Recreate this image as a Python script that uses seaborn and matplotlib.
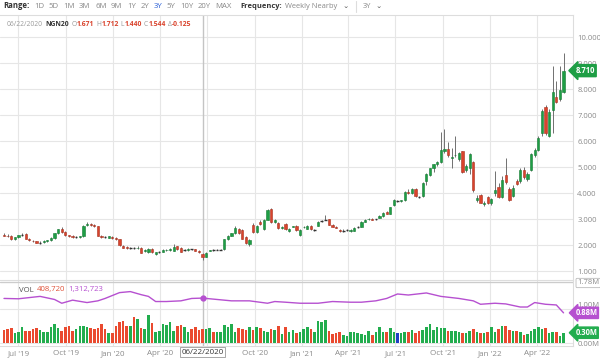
import matplotlib
matplotlib.use("Agg")
import matplotlib.pyplot as plt
import pandas as pd
import seaborn as sns

# weekly NG nearby candles, first week starting 2019-06-03
start = pd.Timestamp("2019-06-03")

opens = [2.40, 2.36, 2.36, 2.22, 2.30, 2.37, 2.42, 2.25, 2.17, 2.15,
         2.09, 2.10, 2.14, 2.18, 2.27, 2.45, 2.62, 2.52, 2.37, 2.36,
         2.30, 2.30, 2.34, 2.78, 2.79, 2.76, 2.73, 2.36, 2.31, 2.28,
         2.30, 2.28, 2.22, 1.97, 1.93, 1.89, 1.89, 1.88, 1.90, 1.78,
         1.72, 1.85, 1.66, 1.74, 1.75, 1.79, 1.80, 1.78, 1.95, 1.90,
         1.81, 1.80, 1.84, 1.83, 1.78, 1.671, 1.55, 1.78, 1.80, 1.81,
         1.82, 1.83, 2.22, 2.35, 2.45, 2.62, 2.58, 2.30, 2.05, 2.78,
         2.50, 2.90, 2.62, 2.98, 3.38, 2.90, 2.85, 2.66, 2.82, 2.55,
         2.70, 2.75, 2.40, 2.68, 2.62, 2.75, 2.57, 2.75, 2.91, 2.97,
         3.00, 2.78, 2.68, 2.57, 2.55, 2.57, 2.55, 2.55, 2.68, 2.70,
         2.90, 2.99, 3.01, 2.99, 3.05, 3.10, 3.28, 3.20, 3.55, 3.70,
         3.70, 3.72, 4.05, 4.00, 4.15, 3.86, 3.88, 4.45, 4.70, 4.95,
         5.10, 5.20, 5.62, 5.70, 5.35, 5.45, 5.30, 5.60, 4.88, 4.95,
         5.20, 3.72, 3.92, 3.56, 3.85, 3.60, 4.00, 4.25, 3.85, 4.70,
         4.15, 3.90, 4.45, 4.45, 4.90, 4.55, 4.90, 5.45, 5.65, 6.30,
         7.30, 6.20, 7.20, 7.70, 7.60, 7.90]
highs = [2.45, 2.42, 2.40, 2.32, 2.40, 2.45, 2.46, 2.28, 2.20, 2.17,
         2.14, 2.18, 2.20, 2.30, 2.48, 2.63, 2.70, 2.55, 2.40, 2.38,
         2.34, 2.36, 2.76, 2.88, 2.83, 2.80, 2.75, 2.40, 2.34, 2.36,
         2.33, 2.30, 2.24, 1.99, 1.95, 1.93, 1.91, 1.97, 1.92, 1.84,
         1.88, 1.88, 1.74, 1.78, 1.84, 1.83, 1.88, 2.05, 1.98, 1.92,
         1.86, 1.88, 1.86, 1.85, 1.80, 1.712, 1.72, 1.82, 1.83, 1.84,
         1.85, 2.24, 2.38, 2.48, 2.72, 2.66, 2.60, 2.33, 2.22, 2.85,
         2.78, 2.95, 3.00, 3.40, 3.42, 3.00, 2.90, 2.72, 2.85, 2.66,
         2.75, 2.78, 2.60, 2.72, 2.78, 2.78, 2.62, 2.92, 2.96, 3.15,
         3.02, 2.80, 2.72, 2.60, 2.60, 2.62, 2.60, 2.68, 2.72, 2.92,
         3.00, 3.04, 3.03, 3.02, 3.14, 3.27, 3.32, 3.47, 3.77, 3.74,
         3.74, 4.08, 4.15, 4.18, 4.20, 3.90, 4.42, 4.78, 4.97, 5.12,
         5.22, 6.35, 6.45, 5.95, 5.75, 6.20, 5.58, 5.62, 5.10, 5.55,
         5.22, 3.92, 3.98, 3.68, 3.90, 3.80, 4.85, 4.40, 4.65, 5.35,
         4.25, 4.30, 4.55, 4.95, 5.00, 4.80, 5.55, 5.75, 6.20, 7.25,
         7.40, 7.25, 8.90, 8.30, 8.90, 9.40]
lows = [2.34, 2.30, 2.18, 2.19, 2.27, 2.33, 2.22, 2.15, 2.12, 2.07,
        2.05, 2.08, 2.12, 2.16, 2.25, 2.43, 2.48, 2.35, 2.32, 2.28,
        2.27, 2.28, 2.32, 2.74, 2.74, 2.70, 2.33, 2.28, 2.27, 2.26,
        2.25, 2.20, 1.98, 1.88, 1.86, 1.86, 1.85, 1.86, 1.68, 1.74,
        1.68, 1.70, 1.62, 1.70, 1.72, 1.76, 1.78, 1.76, 1.80, 1.73,
        1.78, 1.78, 1.80, 1.76, 1.70, 1.440, 1.52, 1.76, 1.77, 1.79,
        1.80, 1.82, 2.20, 2.33, 2.43, 2.42, 2.22, 2.05, 1.95, 2.48,
        2.45, 2.78, 2.58, 2.95, 2.85, 2.86, 2.62, 2.60, 2.58, 2.50,
        2.68, 2.55, 2.35, 2.64, 2.60, 2.58, 2.55, 2.72, 2.88, 2.95,
        2.76, 2.68, 2.64, 2.52, 2.52, 2.55, 2.52, 2.53, 2.65, 2.68,
        2.88, 2.97, 2.96, 2.97, 3.03, 3.08, 3.18, 3.18, 3.52, 3.65,
        3.66, 3.70, 3.97, 3.98, 3.85, 3.82, 3.85, 4.30, 4.65, 4.80,
        5.05, 5.15, 5.55, 5.40, 4.95, 5.40, 5.25, 4.78, 4.80, 4.75,
        4.05, 3.65, 3.60, 3.52, 3.58, 3.55, 3.90, 3.80, 3.80, 4.35,
        3.70, 3.85, 4.30, 4.40, 4.55, 4.45, 4.85, 5.40, 5.60, 6.20,
        6.25, 6.15, 6.30, 7.45, 7.55, 7.85]
closes = [2.36, 2.34, 2.22, 2.30, 2.37, 2.38, 2.25, 2.18, 2.15, 2.09,
          2.10, 2.15, 2.18, 2.28, 2.45, 2.60, 2.52, 2.38, 2.35, 2.30,
          2.31, 2.34, 2.73, 2.80, 2.77, 2.74, 2.36, 2.31, 2.30, 2.33,
          2.28, 2.22, 2.00, 1.90, 1.88, 1.90, 1.88, 1.90, 1.70, 1.80,
          1.85, 1.72, 1.72, 1.75, 1.80, 1.81, 1.86, 1.92, 1.83, 1.75,
          1.82, 1.86, 1.83, 1.78, 1.72, 1.544, 1.70, 1.80, 1.79, 1.82,
          1.83, 2.22, 2.35, 2.45, 2.65, 2.45, 2.25, 2.08, 2.20, 2.50,
          2.75, 2.80, 2.98, 3.35, 2.88, 2.98, 2.65, 2.70, 2.60, 2.62,
          2.72, 2.58, 2.58, 2.70, 2.75, 2.60, 2.58, 2.90, 2.92, 2.98,
          2.78, 2.70, 2.66, 2.55, 2.56, 2.58, 2.57, 2.65, 2.69, 2.90,
          2.95, 3.01, 2.98, 3.00, 3.12, 3.25, 3.20, 3.45, 3.75, 3.70,
          3.72, 4.05, 4.00, 4.15, 3.88, 3.85, 4.40, 4.75, 4.95, 5.10,
          5.20, 5.65, 5.70, 5.45, 5.37, 5.47, 5.55, 4.82, 5.05, 5.50,
          4.10, 3.80, 3.62, 3.62, 3.62, 3.78, 4.12, 3.85, 4.50, 4.42,
          3.75, 4.20, 4.35, 4.90, 4.60, 4.75, 5.50, 5.65, 6.10, 7.15,
          6.30, 7.10, 7.90, 7.50, 7.95, 8.71]

# weekly volume, millions of contracts
volumes = [0.38, 0.41, 0.43, 0.28, 0.32, 0.48, 0.35, 0.35, 0.41, 0.43,
           0.38, 0.33, 0.31, 0.46, 0.56, 0.43, 0.36, 0.46, 0.50, 0.36,
           0.40, 0.50, 0.51, 0.46, 0.43, 0.42, 0.43, 0.56, 0.40, 0.28,
           0.28, 0.50, 0.61, 0.64, 0.50, 0.50, 0.75, 0.70, 0.45, 0.41,
           0.82, 0.58, 0.33, 0.36, 0.56, 0.53, 0.62, 0.35, 0.50, 0.53,
           0.48, 0.33, 0.41, 0.48, 0.38, 0.409, 0.40, 0.43, 0.31, 0.33,
           0.33, 0.53, 0.48, 0.56, 0.33, 0.43, 0.40, 0.38, 0.46, 0.38,
           0.46, 0.43, 0.35, 0.31, 0.40, 0.38, 0.50, 0.26, 0.46, 0.33,
           0.38, 0.28, 0.33,
           0.41, 0.46, 0.40, 0.33, 0.64, 0.62, 0.66, 0.35, 0.26, 0.30,
           0.31, 0.22, 0.20, 0.33, 0.31, 0.28, 0.26, 0.24, 0.36, 0.24,
           0.33, 0.46, 0.31, 0.33, 0.43, 0.33, 0.30, 0.30, 0.31, 0.33,
           0.38, 0.30, 0.36, 0.38, 0.46, 0.55, 0.38, 0.48, 0.43, 0.43,
           0.36, 0.36, 0.35, 0.33, 0.30, 0.30, 0.36, 0.41, 0.33, 0.30,
           0.28, 0.33, 0.46, 0.33, 0.40, 0.50, 0.50, 0.38, 0.36, 0.35,
           0.33, 0.22, 0.26, 0.35, 0.41, 0.46, 0.41, 0.43, 0.28, 0.33,
           0.33, 0.20, 0.30]

# open interest line (purple), sampled weeks
oi_week = [0, 4, 10, 14, 16, 19, 23, 26, 28, 32, 35, 38, 40, 42, 45, 49,
           52, 55, 59, 63, 68, 73, 75, 78, 82, 87, 91, 96, 99, 103, 106,
           109, 112, 117, 121, 126, 130, 132, 136, 139, 143, 145, 147, 150,
           153, 155]
oi_vals = [1.30, 1.29, 1.36, 1.27, 1.16, 1.25, 1.18, 1.23, 1.30, 1.47,
           1.50, 1.41, 1.36, 1.21, 1.21, 1.23, 1.30, 1.31, 1.27, 1.23,
           1.23, 1.16, 1.21, 1.19, 1.16, 1.16, 1.21, 1.19, 1.19, 1.23,
           1.30, 1.43, 1.40, 1.46, 1.36, 1.30, 1.23, 1.13, 1.16, 1.14,
           1.05, 1.05, 1.18, 1.13, 1.11, 0.88]

cross_week = 55

GREEN = "#1e9e45"
GREEN_EDGE = "#157a33"
RED = "#d9432c"
RED_EDGE = "#a8301e"
VGREEN = "#22ad4e"
VRED = "#ea4a2f"
BLUE = "#1f3fc4"
PURPLE = "#b650d0"
GRID = "#e6e6e6"
TXT = "#8a8a8a"

sns.set_style("white")
plt.rcParams["font.family"] = ["Open Sans", "DejaVu Sans"]

W, H = 600, 360
fig = plt.figure(figsize=(6, 3.6), dpi=100)


def fx(px):
    return px / W


def fy(py):
    return 1 - py / H


right_px = 573
ax = fig.add_axes([0, fy(280), fx(right_px), (280 - 15) / H])
axv = fig.add_axes([0, fy(346), fx(right_px), (346 - 280) / H], sharex=ax)

step = 3.61
x_left = -4 / step
x_right = (right_px - 4) / step

# quarter grid
qdates = pd.date_range("2019-07-01", "2022-04-01", freq="QS")
qpos = [(d - start).days / 7 for d in qdates]
qlabels = [d.strftime("%b '%y") for d in qdates]
qlabels = ["" if d == pd.Timestamp("2020-07-01") else l for d, l in zip(qdates, qlabels)]

for a in (ax, axv):
    for q in qpos:
        a.axvline(q, color=GRID, lw=0.8, zorder=0)
    a.axvline(cross_week, color="#c4c4c4", lw=1.0, zorder=1)

# candles
for i in range(len(closes)):
    o, h, l, c = opens[i], highs[i], lows[i], closes[i]
    ax.vlines(i, l, h, color="#707070", lw=0.7, zorder=2)
    if abs(c - o) < 0.015:
        ax.hlines((o + c) / 2, i - 0.35, i + 0.35, color="#333333", lw=1.0, zorder=3)
        continue
    up = c > o
    ax.bar(i, c - o, bottom=o, width=0.62,
           color=GREEN if up else RED, edgecolor=GREEN_EDGE if up else RED_EDGE,
           linewidth=0.4, zorder=3)

ax.set_xlim(x_left, x_right)
ax.set_ylim(0.654, 10.85)
ax.set_yticks(range(1, 11))
ax.set_yticklabels([f"{v:.3f}" for v in range(1, 11)])
ax.yaxis.tick_right()
ax.tick_params(axis="y", length=0, labelsize=5.5, labelcolor=TXT, pad=3)
ax.tick_params(axis="x", length=0, labelbottom=False)
ax.grid(axis="y", color=GRID, lw=0.8)
ax.set_axisbelow(True)
for s in ("left", "bottom"):
    ax.spines[s].set_visible(False)
for s in ("top", "right"):
    ax.spines[s].set_color("#dddddd")
    ax.spines[s].set_linewidth(0.8)

# volume bars: green up week, red down week, blue unchanged
vcolors = []
for o, c in zip(opens, closes):
    if c == o:
        vcolors.append(BLUE)
    elif c > o:
        vcolors.append(VGREEN)
    else:
        vcolors.append(VRED)
axv.bar(range(len(volumes)), volumes, width=0.72, color=vcolors, linewidth=0, zorder=2)

sns.lineplot(x=oi_week, y=oi_vals, ax=axv, color=PURPLE, lw=1.0, zorder=3)
axv.plot([cross_week], [oi_vals[oi_week.index(cross_week)]], "o", color=PURPLE,
         ms=3.5, zorder=4)

axv.set_ylim(-0.0875, 1.838)
axv.set_yticks([0, 1.0, 1.78])
axv.set_yticklabels(["0.00M", "1.00M", "1.78M"])
axv.yaxis.tick_right()
axv.tick_params(axis="y", length=0, labelsize=5.5, labelcolor=TXT, pad=3)
axv.grid(axis="y", color=GRID, lw=0.8)
axv.axhline(1.78, color="#cccccc", lw=0.9, zorder=1)
axv.set_xticks(qpos)
axv.set_xticklabels(qlabels)
axv.tick_params(axis="x", length=0, labelsize=5.8, labelcolor=TXT, pad=3)
axv.set_xlabel("")
axv.set_ylabel("")
axv.spines["left"].set_visible(False)
for s in ("top", "right", "bottom"):
    axv.spines[s].set_color("#dddddd")
    axv.spines[s].set_linewidth(0.8)

for lab in axv.get_yticklabels():
    if lab.get_text() == "1.78M":
        lab.set_bbox(dict(boxstyle="round,pad=0.15", fc="white", ec="#bbbbbb", lw=0.6))
    if lab.get_text() == "1.00M":
        # sits just above the purple badge, as in the original
        lab.set_va("bottom")

# right-side badges
ax.text(1.004, closes[-1], f"{closes[-1]:.3f}", transform=ax.get_yaxis_transform(),
        ha="left", va="center", fontsize=5.5, color="white", fontweight="bold",
        bbox=dict(boxstyle="larrow,pad=0.2", fc=GREEN, ec=GREEN), zorder=5)
axv.text(1.004, oi_vals[-1], f"{oi_vals[-1]:.2f}M", transform=axv.get_yaxis_transform(),
         ha="left", va="center", fontsize=5.5, color="white", fontweight="bold",
         bbox=dict(boxstyle="larrow,pad=0.15", fc=PURPLE, ec=PURPLE), zorder=5)
axv.text(1.004, volumes[-1], f"{volumes[-1]:.2f}M", transform=axv.get_yaxis_transform(),
         ha="left", va="center", fontsize=5.5, color="white", fontweight="bold",
         bbox=dict(boxstyle="larrow,pad=0.15", fc=VGREEN, ec=VGREEN), zorder=5)

# crosshair date box
axv.text(cross_week, -0.095, "06/22/2020", transform=axv.get_xaxis_transform(),
         ha="center", va="center", fontsize=5.8, color="#333333",
         bbox=dict(boxstyle="square,pad=0.2", fc="white", ec="#999999", lw=0.6), zorder=5)

fig.canvas.draw()
renderer = fig.canvas.get_renderer()


def chain(x_px, y_px, pieces, size):
    # pieces: (text, colour, weight, gap after in px)
    x = x_px
    for txt, col, wt, gap in pieces:
        t = fig.text(fx(x), fy(y_px), txt, color=col, fontsize=size,
                     fontweight=wt, ha="left", va="center")
        x += t.get_window_extent(renderer).width + gap
    return x


# top toolbar
ranges = ["1D", "5D", "1M", "3M", "6M", "9M", "1Y", "2Y", "3Y", "5Y", "10Y", "20Y", "MAX"]
pieces = [("Range:", "#333333", "bold", 4.5)]
pieces += [(r, "#2a5fd6" if r == "3Y" else "#888888", "normal", 4.5) for r in ranges]
end = chain(3, 6, pieces, 5.6)
end = chain(end + 4, 6, [("Frequency:", "#333333", "bold", 3),
                         ("Weekly Nearby", "#888888", "normal", 5),
                         ("\u2304", "#555555", "normal", 0)], 5.4)
fig.add_artist(plt.Line2D([fx(end + 7)] * 2, [fy(1), fy(12)], color="#dddddd", lw=0.8))
chain(end + 14, 6, [("3Y", "#888888", "normal", 5), ("\u2304", "#555555", "normal", 0)], 5.4)

# info line for the hovered candle
info = [("06/22/2020", "#999999", "normal", 2.5), ("NGN20", "#333333", "bold", 2)]
for key, val in [("O", "1.671"), ("H", "1.712"), ("L", "1.440"), ("C", "1.544"), ("\u0394", "-0.125")]:
    info += [(key, "#999999", "normal", 0.3), (val, "#d9432c", "bold", 2)]
chain(7, 25, info, 4.9)

# volume caption
chain(19, 290, [("VOL", "#555555", "normal", 3), ("408,720", "#e0533a", "normal", 3),
                ("1,312,723", PURPLE, "normal", 0)], 5.6)

fig.savefig("out.png", dpi=100)
